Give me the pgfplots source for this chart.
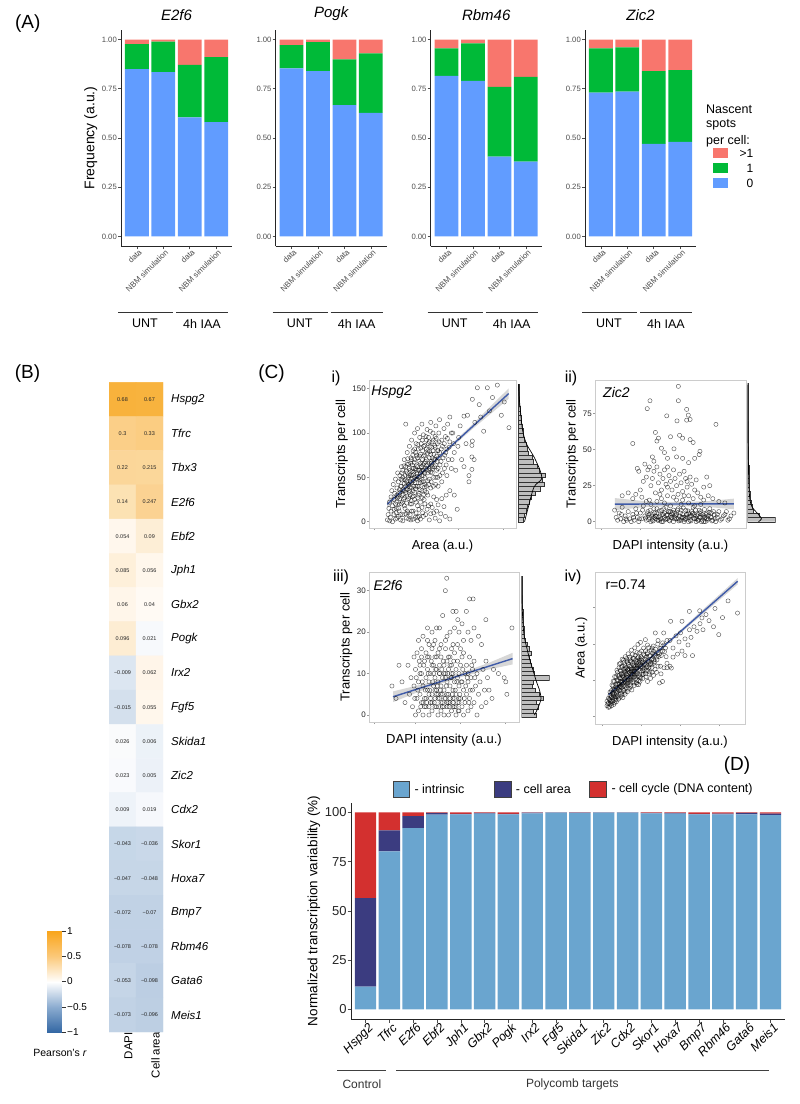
\documentclass[border=0pt]{standalone}
\usepackage{fontspec}
\setmainfont{Liberation Sans}
\usepackage{pgfplots}
\pgfplotsset{compat=1.18}
\pgfplotsset{/pgf/number format/assume math mode=true}
\newcommand{\fs}[1]{\fontsize{#1}{#1}\selectfont}
\definecolor{ggred}{HTML}{F8766D}
\definecolor{gggreen}{HTML}{00BA38}
\definecolor{ggblue}{HTML}{619CFF}
\definecolor{gtick}{HTML}{4D4D4D}
\definecolor{intr}{HTML}{6AA5CF}
\definecolor{carea}{HTML}{3B3C80}
\definecolor{ccyc}{HTML}{D3302F}
\definecolor{fitblue}{HTML}{3F5BA9}
\pgfplotsset{
  Astyle/.style={
    scale only axis, width=111pt, height=216.65pt, anchor=north west,
    xmin=0.4, xmax=4.6, ymin=-0.05, ymax=1.05,
    axis lines*=left, axis line style={black!85, line width=0.8pt, -},
    ybar stacked, bar width=0.9,
    xtick={1,2,3,4}, xticklabels={data,NBM simulation,data,NBM simulation},
    xticklabel style={rotate=45, anchor=north east, font=\fs{8}, text=gtick, inner sep=0.5pt, xshift=2pt},
    ytick={0,0.25,0.5,0.75,1}, yticklabels={0.00,0.25,0.50,0.75,1.00},
    yticklabel style={font=\fs{7.7}, text=gtick, inner sep=1pt},
    tick align=outside, major tick length=3pt, tick style={gtick, line width=0.5pt},
    title style={font=\fs{15}\itshape, at={(0.5,1)}, anchor=south, yshift=2pt, inner sep=1pt},
  },
  Cstyle/.style={
    scale only axis, anchor=north west,
    axis line style={gray!40, line width=0.7pt},
    tick align=outside, major tick length=2pt, tick style={gray!80, line width=0.5pt},
    xtick pos=bottom, ytick pos=left, xticklabels=\empty,
    yticklabel style={font=\fs{8}, text=black!85, inner sep=1pt},
    xlabel style={font=\fs{13}}, ylabel style={font=\fs{13}},
    xmin=0, xmax=100,
  },
  Hstyle/.style={scale only axis, anchor=north west, hide axis, xmin=0, xmax=28, width=28pt},
  pts/.style={only marks, mark=o, mark size=2.1pt, mark options={draw=black, draw opacity=0.7, line width=0.4pt}},
  band/.style={fill=gray!45, draw=none, fill opacity=0.7},
  fit/.style={fitblue, line width=1.4pt},
  hbar/.style={xbar interval, fill=gray!50, draw=black!80, line width=0.3pt},
  dens/.style={black, line width=0.7pt, smooth},
}
\begin{document}
\begin{tikzpicture}
\path[use as bounding box] (0,0) rectangle (800pt,-1104pt);

% ---------------- Panel A ----------------
\begin{axis}[Astyle, at={(121pt,-29.65pt)}, title={E2f6}, ylabel={Frequency (a.u.)}, ylabel style={font=\fs{14}}]
\addplot[fill=ggblue,draw=none] coordinates {(1,0.849) (2,0.835) (3,0.605) (4,0.580)};
\addplot[fill=gggreen,draw=none] coordinates {(1,0.128) (2,0.154) (3,0.266) (4,0.330)};
\addplot[fill=ggred,draw=none] coordinates {(1,0.023) (2,0.011) (3,0.129) (4,0.090)};
\end{axis}
\begin{axis}[Astyle, at={(275.7pt,-29.65pt)}, title={Pogk}]
\addplot[fill=ggblue,draw=none] coordinates {(1,0.854) (2,0.840) (3,0.667) (4,0.628)};
\addplot[fill=gggreen,draw=none] coordinates {(1,0.118) (2,0.147) (3,0.232) (4,0.302)};
\addplot[fill=ggred,draw=none] coordinates {(1,0.028) (2,0.013) (3,0.101) (4,0.070)};
\end{axis}
\begin{axis}[Astyle, at={(430.7pt,-29.65pt)}, title={Rbm46}]
\addplot[fill=ggblue,draw=none] coordinates {(1,0.815) (2,0.790) (3,0.405) (4,0.380)};
\addplot[fill=gggreen,draw=none] coordinates {(1,0.140) (2,0.190) (3,0.355) (4,0.430)};
\addplot[fill=ggred,draw=none] coordinates {(1,0.045) (2,0.020) (3,0.240) (4,0.190)};
\end{axis}
\begin{axis}[Astyle, at={(585pt,-29.65pt)}, title={Zic2}]
\addplot[fill=ggblue,draw=none] coordinates {(1,0.730) (2,0.735) (3,0.470) (4,0.480)};
\addplot[fill=gggreen,draw=none] coordinates {(1,0.225) (2,0.225) (3,0.370) (4,0.365)};
\addplot[fill=ggred,draw=none] coordinates {(1,0.045) (2,0.040) (3,0.160) (4,0.155)};
\end{axis}

% ---------------- Panel B: heatmap ----------------
\begin{axis}[at={(109pt,-382.3pt)}, anchor=north west, scale only axis, width=54pt, height=649.7pt,
  xmin=-0.5, xmax=1.5, ymin=-0.5, ymax=18.5, y dir=reverse,
  axis line style={draw=none}, major tick length=0pt,
  xtick={0,1}, xticklabels={DAPI,Cell area},
  xticklabel style={rotate=90, anchor=east, font=\fs{11.5}, inner sep=0pt, yshift=-6pt},
  ytick={0,...,18},
  yticklabels={Hspg2,Tfrc,Tbx3,E2f6,Ebf2,Jph1,Gbx2,Pogk,Irx2,Fgf5,Skida1,Zic2,Cdx2,Skor1,Hoxa7,Bmp7,Rbm46,Gata6,Meis1},
  yticklabel pos=right,
  yticklabel style={anchor=west, font=\fs{11.5}\itshape, inner sep=0pt, xshift=8pt},
  colormap={hm}{rgb255(0pt)=(52,104,164) rgb255(90pt)=(188,206,227) rgb255(96pt)=(199,215,232) rgb255(98.5pt)=(212,224,237) rgb255(100pt)=(232,239,247) rgb255(102.5pt)=(250,251,253) rgb255(104pt)=(255,250,244) rgb255(106pt)=(255,246,234) rgb255(110pt)=(253,236,208) rgb255(115pt)=(252,223,172) rgb255(125pt)=(251,210,145) rgb255(133pt)=(251,205,130) rgb255(168pt)=(248,178,60) rgb255(200pt)=(249,165,27)},
  point meta min=-1, point meta max=1]
\addplot[matrix plot*, mesh/cols=2, point meta=explicit] table[row sep=\\, meta=v] {
x y v\\
0 0 0.68\\ 1 0 0.67\\
0 1 0.3\\ 1 1 0.33\\
0 2 0.22\\ 1 2 0.215\\
0 3 0.14\\ 1 3 0.247\\
0 4 0.054\\ 1 4 0.09\\
0 5 0.085\\ 1 5 0.056\\
0 6 0.06\\ 1 6 0.04\\
0 7 0.096\\ 1 7 0.021\\
0 8 -0.009\\ 1 8 0.062\\
0 9 -0.015\\ 1 9 0.055\\
0 10 0.026\\ 1 10 0.006\\
0 11 0.023\\ 1 11 0.005\\
0 12 0.009\\ 1 12 0.019\\
0 13 -0.043\\ 1 13 -0.036\\
0 14 -0.047\\ 1 14 -0.048\\
0 15 -0.072\\ 1 15 -0.07\\
0 16 -0.078\\ 1 16 -0.078\\
0 17 -0.053\\ 1 17 -0.098\\
0 18 -0.073\\ 1 18 -0.096\\
};
\addplot[draw=none, mark=none, nodes near coords, point meta=explicit symbolic,
  nodes near coords align={center},
  every node near coord/.append style={font=\fs{5.5}, text=black!85, inner sep=0pt}] table[row sep=\\, meta=t] {
x y t\\
0 0 0.68\\ 1 0 0.67\\
0 1 0.3\\ 1 1 0.33\\
0 2 0.22\\ 1 2 0.215\\
0 3 0.14\\ 1 3 0.247\\
0 4 0.054\\ 1 4 0.09\\
0 5 0.085\\ 1 5 0.056\\
0 6 0.06\\ 1 6 0.04\\
0 7 0.096\\ 1 7 0.021\\
0 8 −0.009\\ 1 8 0.062\\
0 9 −0.015\\ 1 9 0.055\\
0 10 0.026\\ 1 10 0.006\\
0 11 0.023\\ 1 11 0.005\\
0 12 0.009\\ 1 12 0.019\\
0 13 −0.043\\ 1 13 −0.036\\
0 14 −0.047\\ 1 14 −0.048\\
0 15 −0.072\\ 1 15 −0.07\\
0 16 −0.078\\ 1 16 −0.078\\
0 17 −0.053\\ 1 17 −0.098\\
0 18 −0.073\\ 1 18 −0.096\\
};
\end{axis}

% colorbar
\begin{axis}[at={(47pt,-931pt)}, anchor=north west, scale only axis, width=15pt, height=101pt,
  xmin=0, xmax=1, ymin=-1, ymax=1, axis line style={draw=none}, xtick=\empty,
  ytick={-1,-0.5,0,0.5,1}, yticklabels={−1,−0.5,0,0.5,1}, ytick pos=right, yticklabel pos=right,
  tick align=outside, major tick length=4pt, tick style={black!80, line width=0.5pt},
  yticklabel style={font=\fs{10}, inner sep=1pt},
  colormap={cb}{rgb255=(52,104,164) rgb255=(140,172,208) rgb255=(255,255,255) rgb255=(251,200,120) rgb255=(249,165,27)},
  point meta min=-1, point meta max=1]
\addplot[surf, shader=interp, mesh/cols=2, point meta=y] coordinates {(0,-1) (1,-1) (0,-0.5) (1,-0.5) (0,0) (1,0) (0,0.5) (1,0.5) (0,1) (1,1)};
\end{axis}

% ---------------- Panel C ----------------
% i) Hspg2
\begin{axis}[Cstyle, at={(369pt,-380pt)}, width=147pt, height=148pt, ymin=-7.1, ymax=159.75,
  ytick={0,50,100,150}, xtick={3.4,31,61,91}, xlabel={Area (a.u.)}, ylabel={Transcripts per cell}]
\addplot[pts] coordinates {
(12.5,2) (13,8) (13.5,15) (14,22) (14.5,5) (15,28) (15,12) (15.5,35) (16,0) (16,18) (16.5,42) (17,8) (17,25) (17.5,32) (18,3) (18,48) (18.5,15) (19,22) (19,38) (19.5,55) (20,6) (20,28) (20,45)
(20.5,12) (21,33) (21,52) (21.5,2) (21.5,40) (22,20) (22,62) (22.5,30) (22.5,47) (23,8) (23,36) (23,58) (23.5,25) (24,43) (24,70) (24.5,15) (24.5,52) (25,33) (25,110) (25,62) (25.5,4) (25.5,45) (26,28) (26,55) (26,78)
(26.5,10) (26.5,40) (27,65) (27,50) (27.5,35) (27.5,85) (28,20) (28,45) (28,58) (28.5,72) (28.5,2) (29,38) (29,52) (29,92) (29.5,28) (29.5,64) (30,46) (30,80) (30,12) (30.5,56) (30.5,40) (31,70) (31,100) (31,33) (31.5,5) (31.5,60) (32,48) (32,88) (32,22)
(32.5,75) (32.5,54) (33,40) (33,62) (33,105) (33.5,30) (33.5,82) (34,50) (34,68) (34,14) (34.5,58) (34.5,95) (35,44) (35,76) (35,3) (35.5,62) (35.5,88) (36,52) (36,35) (36,110) (36.5,70) (36.5,80) (37,58) (37,45) (37,98) (37.5,25) (37.5,66) (38,75) (38,86) (38,50) (38.5,60) (38.5,8) (39,92) (39,40) (39,70) (39.5,104) (40,55) (40,80) (40,64)
(40.5,18) (40.5,95) (41,72) (41,48) (41.5,85) (41.5,60) (42,112) (42,76) (42,38) (42.5,66) (43,90) (43,55) (43.5,100) (43.5,80) (44,70) (44,28) (44.5,62) (45,96) (45,84) (45.5,50) (45.5,108) (46,74) (46.5,88) (47,60) (47,40) (47.5,100) (48,78) (48,115)
(48.8,9) (49,68) (49.5,92) (50,55) (50,85) (51,17) (51,105) (51.5,75) (52,96) (52.5,64) (53,82) (53.5,110) (54,70) (55,118) (55,90) (56,60) (57,100) (58,78) (58,30)
(60,14) (61,95) (62,108) (63,70) (64.6,119) (64.6,62) (66,88) (67,120) (68,45) (68,52) (70,59) (70,73) (70,86) (70.3,91) (70.3,138) (71.5,70) (72,112)
(73.7,151) (75,132) (76,118) (78,102) (80.5,151) (82,125) (84,140) (87.3,154) (90,120) (95.2,106) (92,135)
(24,35) (25,40) (26,46) (27,42) (28,52) (29,44) (30,60) (31,50) (32,58) (33,48) (34,40) (35,55) (36,62) (37,52) (38,42) (39,58) (40,46) (41,66) (42,56) (43,62) (44,50) (45,70) (46,58) (47,80) (29,70) (31,82) (33,72) (35,66) (37,74) (39,82) (41,90) (43,72) (27,26) (29,20) (31,25) (33,18) (35,22) (37,30) (30,35) (32,40) (34,32) (36,45) (38,35) (40,30) (26,65) (28,30) (23,50) (22,40) (21,26) (20,15) (19,30) (18,20) (17,14) (24,18) (26,12) (28,8) (30,3) (32,10) (34,6) (36,16) (38,20) (42,20) (44,10) (46,25)
(14,1) (19,4) (23,1) (27,3) (33,1) (37,6) (41,2) (45,4) (48,1) (52,6) (55,3) (42,9) (46,12)
(19.3,27) (20.7,36) (21.8,48) (22.4,55) (23.2,31) (23.8,63) (24.6,47) (25.3,57) (25.9,36) (26.3,71) (26.8,52) (27.3,60) (27.9,39) (28.4,66) (28.8,49) (29.3,57) (29.8,75) (30.2,53) (30.7,67) (31.2,44) (31.7,78) (32.2,63) (32.7,51) (33.2,87) (33.7,58) (34.2,74) (34.7,47) (35.2,83) (35.7,57) (36.2,92) (36.7,64) (37.2,85) (37.7,55) (38.2,68) (38.7,96) (39.2,63) (39.7,77) (40.2,88) (40.7,58) (41.2,79) (41.7,102) (42.2,68) (42.7,84) (43.2,60) (43.7,92) (44.2,76) (44.7,86) (45.2,64) (45.7,94) (46.2,68) (46.7,80) (47.2,72) (47.7,90) (48.3,64) (49.2,82) (50.4,72) (51.2,88) (52.2,78) (53.3,94) (54.5,84) (56,100) (57.5,88)
(22.8,22) (24.2,27) (25.7,21) (27.2,33) (28.7,24) (30.2,29) (31.7,37) (33.2,27) (34.7,36) (36.2,27) (37.7,39) (39.2,33) (40.7,42) (42.3,45) (43.8,40) (45.3,42) (46.8,50) (48.2,52) (49.5,45) (51.3,60) (20.5,20) (18.5,10) (21.5,8) (25,9) (29,12) (33,5) (36.5,10) (39.5,14) (43,16) (47,19) (49.5,26) (52.5,30) (55,35) (53,52) (56.5,70) (59,58) (60.5,85)
};
\addplot[band] coordinates {(12.4,15) (30,44) (50,74.6) (70,104) (95,138.5) (95,150.3) (70,109.2) (50,78.2) (30,48.4) (12.4,24.2)} -- cycle;
\addplot[fit] coordinates {(12.4,19.6) (95,144.4)};
\node[anchor=north west, font=\fs{14}\itshape, inner sep=0pt] at (rel axis cs:0.015,0.96) {Hspg2};
\end{axis}
\begin{axis}[Hstyle, at={(518pt,-380pt)}, height=148pt, ymin=-7.1, ymax=159.75]
\addplot[hbar] coordinates {(5,0) (6,5) (8,10) (9,15) (11,20) (13,25) (17,30) (22,35) (26,40) (24,45) (27,50) (21,55) (19,60) (15,65) (14,70) (10,75) (9,80) (8,85) (6,90) (5,95) (5,100) (4,105) (3,110) (3,115) (2.5,120) (2,125) (1.5,130) (1.5,135) (1,140) (1,145) (1,150) (1,155)};
\addplot[dens] coordinates {(6.5,0) (10,15) (16,39) (23.5,48) (22,58) (16,73) (8.4,88) (4.6,103) (2.7,122) (1.2,140) (0.6,155)};
\end{axis}

% ii) Zic2
\begin{axis}[Cstyle, at={(595pt,-380pt)}, width=151pt, height=148pt, ymin=-4.4, ymax=98.4,
  ytick={0,25,50,75}, xtick={4.4,30,56,82}, xlabel={DAPI intensity (a.u.)}, ylabel={Transcripts per cell}]
\addplot[pts] coordinates {
(36.4,84) (55.2,94) (55.2,84) (34.6,78.5) (47.5,73.5) (54.3,70) (60.7,78) (61.8,74) (63,71) (60.7,70.5) (80.1,67.6) (69.5,48.9) (69,46.6) (25,54.3) (52.3,50.6) (40,62) (42,58) (41,56) (44,51) (46,48) (50,59) (56,60) (58,58) (63,57) (65,55) (58,44) (48,44) (38,45) (33,40) (54,45) (66,44) (62,41) (36,38) (28,37) (74,31) (76,25) (72,24) (29,35)
(30,22) (32,28) (34,31) (35,36) (37,25) (38,30) (39,35) (40,20) (41,38) (42,27) (43,33) (44,22) (45,30) (46,36) (47,26) (48,18) (49,32) (50,28) (51,22) (52,36) (53,30) (54,25) (55,19) (56,33) (57,27) (58,21) (59,35) (60,30) (61,24) (62,18) (63,31) (64,26) (65,16) (66,22) (67,29) (68,20) (70,17) (72,15) (75,18) (78,16) (82,14) (86,13) (18,18) (22,20) (25,16) (27,19) (31,17) (36,15) (44,16) (52,17) (58,15) (48,38) (39,42)
(13,8) (14,3) (15,1) (16,6) (17,2) (18,10) (19,0) (20,4) (21,1) (22,7) (23,2) (24,0) (25,5) (26,1) (27,9) (28,3) (29,0) (30,6) (31,2) (32,11) (33,4) (34,1) (35,7) (36,3) (37,0) (38,5) (39,9) (40,2) (41,6) (42,1) (43,4) (44,8) (45,0) (46,3) (47,10) (48,5) (49,1) (50,7) (51,3) (52,0) (53,6) (54,2) (55,9) (56,4) (57,1) (58,5) (59,0) (60,8) (61,3) (62,6) (63,1) (64,4) (65,10) (66,2) (67,0) (68,5) (69,3) (70,7) (71,1) (72,4) (73,0) (74,6) (75,2) (76,9) (77,3) (78,1) (79,5) (80,0) (81,3) (82,7) (84,2) (86,5) (88,1) (90,4) (92,6)
(38,1) (40,4) (42,3) (44,0) (46,6) (48,2) (50,4) (52,8) (54,5) (56,1) (58,3) (60,2) (62,0) (64,7) (66,5) (68,1) (70,3) (72,0) (74,2) (36,5) (41,9) (45,5) (49,7) (53,3) (57,8) (61,5) (65,6) (69,8) (73,3) (77,6) (39,3) (43,1) (47,2) (51,5) (55,2) (59,3) (63,4) (67,2) (71,5) (75,4)
(33.5,2.5) (34.5,5.5) (35.5,1.5) (36.5,8) (37.5,4) (38.5,0.5) (39.5,6) (40.5,3.5) (41.5,1) (42.5,7.5) (43.5,2) (44.5,5) (45.5,9) (46.5,1.5) (47.5,4.5) (48.5,7) (49.5,0.5) (50.5,3) (51.5,6.5) (52.5,2) (53.5,4.5) (54.5,8) (55.5,0.5) (56.5,6) (57.5,3) (58.5,9.5) (59.5,1.5) (60.5,5) (61.5,7.5) (62.5,3) (63.5,0.5) (64.5,5.5) (65.5,2.5) (66.5,8) (67.5,4) (68.5,1) (69.5,6) (70.5,0) (71.5,3) (72.5,8.5) (73.5,5) (74.5,1) (75.5,6.5) (76.5,3.5) (77.5,0.5) (78.5,7) (79.5,2) (81,5) (83,1) (85,4) (87,7) (89,2) (25.5,3) (27.5,6) (29.5,2) (31.5,8) (20.5,2) (17.5,5)
(37,12) (41,14) (46,13) (50,11) (54,15) (57,12) (62,13) (66,11) (70,12) (34,14) (43,19) (59,18) (48,24) (61,28)
};
\addplot[band] coordinates {(13.2,8) (35,10.3) (55,10.8) (75,10.2) (92,8.6) (92,16) (75,14.3) (55,13.6) (35,14) (13.2,16.4)} -- cycle;
\addplot[fit] coordinates {(13.2,12.2) (92,12.4)};
\node[anchor=north west, font=\fs{14}\itshape, inner sep=0pt] at (rel axis cs:0.053,0.953) {Zic2};
\end{axis}
\begin{axis}[Hstyle, at={(747.5pt,-380pt)}, height=148pt, ymin=-4.4, ymax=98.4]
\addplot[hbar] coordinates {(28,0) (12,3) (6,6) (4.5,9) (3.5,12) (3,15) (2.5,18) (2,21) (2,24) (1.5,27) (1.5,30) (1.2,33) (1.2,36) (1,39) (1,42) (1,45) (0.8,48) (0.8,51) (0.7,54) (0.7,57) (0.6,60) (0.5,63) (0.5,66) (0.5,69) (0.5,72) (0.5,75) (0.4,78) (0.4,81) (0.3,84) (0.3,87) (0.3,90) (0.3,93) (0.3,96)};
\addplot[dens] coordinates {(11,0) (14,2) (11,5) (7,8) (4,11) (2.5,15) (1.8,20) (1.2,30) (0.8,45) (0.5,60) (0.3,80) (0.2,95)};
\end{axis}

% iii) E2f6
\begin{axis}[Cstyle, at={(369pt,-572pt)}, width=150pt, height=150pt, ymin=-1.69, ymax=34.5,
  ytick={0,10,20,30}, xtick={3.4,31,61,91}, xlabel={DAPI intensity (a.u.)}, ylabel={Transcripts per cell}]
\addplot[pts] coordinates {
(51.8,33) (50.9,30) (67,28) (69.4,28) (95.3,21) (55.9,25) (58.1,25) (49.1,24) (64.9,25) (77.9,23) (59.2,23) (62,22) (45,21) (39,21) (42,20) (47,21) (54,20) (57,21) (60,20) (66,20) (70,21) (73,19) (36,19) (44,18) (52,19) (63,18) (68,18) (75,17) (48,17) (56,17) (40,17) (33,18)
(15.3,7) (90.1,9) (91.2,8) (91.9,5) (86.3,10) (83,11) (80,6) (78,13) (82,4) (20,12) (22,8) (18,4) (24,3)
(26,12) (27,5) (28,9) (29,2) (30,14) (30,7) (31,0) (31,11) (32,4) (32,15) (33,8) (33,1) (34,12) (34,5) (35,10) (35,3) (35,16) (36,7) (36,0) (37,13) (37,4) (38,9) (38,2) (38,15) (39,6) (39,11) (40,0) (40,8) (40,14) (41,3) (41,10) (42,5) (42,16) (42,1) (43,12) (43,7) (44,4) (44,14) (44,9) (45,2) (45,11) (45,6) (46,0) (46,15) (46,8) (47,4) (47,12) (47,10) (48,1) (48,7) (48,14) (49,5) (49,9) (49,3) (50,12) (50,0) (50,6) (51,16) (51,4) (51,10) (52,2) (52,8) (52,13) (53,5) (53,11) (53,0) (54,7) (54,14) (54,3) (55,9) (55,1) (55,12) (56,6) (56,4) (56,10) (57,2) (57,15) (57,8) (58,0) (58,11) (58,5) (59,13) (59,3) (60,7) (60,10) (60,1) (61,4) (61,12) (62,8) (62,2) (62,14) (63,6) (63,0) (64,10) (64,3) (65,12) (65,5) (66,8) (66,1) (67,14) (67,4) (68,9) (68,2) (69,6) (69,11) (70,3) (70,13) (71,7) (72,0) (72,10) (73,5) (74,8) (75,2) (76,11) (77,6) (78,3) (79,9)
(36,3) (38,4) (40,5) (42,3) (44,2) (46,4) (48,3) (50,2) (52,5) (54,4) (56,3) (58,2) (60,4) (37,2) (41,4) (45,5) (49,2) (53,3) (57,4) (43,10) (47,10) (51,9) (55,10) (59,9) (39,14) (45,14) (53,14) (61,16) (34,10) (66,10)
(30.5,4) (31.5,9) (32.5,6) (33.5,13) (34.5,2) (35.5,8) (36.5,12) (37.5,6) (38.5,3) (39.5,10) (40.5,6) (41.5,13) (42.5,8) (43.5,3) (44.5,11) (45.5,7) (46.5,2) (47.5,6) (48.5,11) (49.5,13) (50.5,4) (51.5,7) (52.5,10) (53.5,2) (54.5,9) (55.5,5) (56.5,13) (57.5,6) (58.5,8) (59.5,1) (60.5,5) (61.5,8) (62.5,11) (63.5,4) (64.5,7) (65.5,9) (66.5,3) (67.5,6) (68.5,12) (70.5,9) (39,18) (43,17) (47,16) (51,18) (55,16) (59,17) (63,15) (35,14) (40,2) (44,6) (48,5) (52,3) (56,2) (60,3) (46,5) (50,10) (54,12) (42,12)
};
\addplot[band] coordinates {(16,3.1) (40,6.6) (60,9.0) (80,11.0) (95.7,12.2) (95.7,15.0) (80,12.6) (60,10.0) (40,7.8) (16,5.7)} -- cycle;
\addplot[fit] coordinates {(16,4.4) (95.7,13.6)};
\node[anchor=north west, font=\fs{14}\itshape, inner sep=0pt] at (rel axis cs:0.03,0.949) {E2f6};
\end{axis}
\begin{axis}[Hstyle, at={(521.5pt,-572pt)}, height=150pt, ymin=-1.69, ymax=34.5]
\addplot[hbar] coordinates {(15,-0.5) (12,0.5) (17,1.5) (15,2.5) (22,3.5) (18,4.5) (14,5.5) (11,6.5) (12,7.5) (28,8.5) (13,9.5) (12,10.5) (10,11.5) (9,12.5) (8,13.5) (10,14.5) (8,15.5) (6,16.5) (4,17.5) (3,18.5) (3,19.5) (3,20.5) (2,21.5) (2,22.5) (1.5,23.5) (1.5,24.5) (0.8,25.5) (0.8,26.5) (0.8,27.5) (0.5,28.5) (0.5,29.5) (0.5,30.5) (0.5,31.5) (0.5,32.5) (0.5,33.5)};
\addplot[dens] coordinates {(13,0) (17,2) (19.5,4) (18,6) (15,8) (12.5,10) (10,12) (7.5,14) (5.5,16) (3.5,18) (2.2,20) (1.3,23) (0.7,26) (0.3,30) (0.1,33.5)};
\end{axis}

% iv) Area vs DAPI
\begin{axis}[Cstyle, at={(595pt,-572pt)}, width=150pt, height=152pt, ymin=0, ymax=100,
  ytick={5.1,28.5,52.6,76.9}, yticklabels=\empty, xtick={4.7,30.9,56.9,82.9}, xlabel={DAPI intensity (a.u.)}, ylabel={Area (a.u.)}]
\addplot[pts] coordinates {
(8,12) (8,15) (9,11) (9,14) (10,13) (10,16) (10,19) (11,12) (11,18) (11,22) (12,15) (12,20) (12,25) (13,14) (13,18) (13,23) (13,28) (14,16) (14,21) (14,26) (14,31) (15,18) (15,24) (15,29) (15,34) (16,17) (16,22) (16,27) (16,32) (16,37) (17,20) (17,25) (17,30) (17,35) (17,40) (18,19) (18,24) (18,28) (18,33) (18,38) (19,22) (19,27) (19,31) (19,36) (19,42) (20,21) (20,25) (20,30) (20,34) (20,39) (21,24) (21,28) (21,33) (21,37) (21,43) (22,23) (22,27) (22,31) (22,36) (22,40) (23,26) (23,30) (23,34) (23,38) (23,44) (24,25) (24,29) (24,33) (24,37) (24,41) (25,28) (25,32) (25,36) (25,40) (25,46) (26,27) (26,31) (26,35) (26,39) (26,43) (27,30) (27,34) (27,38) (27,42) (28,29) (28,33) (28,37) (28,41) (28,47) (29,32) (29,36) (29,40) (29,44) (30,31) (30,35) (30,39) (30,43) (31,34) (31,38) (31,42) (31,48) (32,33) (32,37) (32,41) (33,36) (33,40) (33,45) (34,35) (34,39) (34,44) (35,38) (35,42) (35,47) (36,37) (36,41) (37,40) (37,45) (38,39) (38,43) (39,42) (39,48) (40,41) (40,45) (41,44) (42,47) (43,46) (44,50) (45,48) (46,52) (47,50) (48,55)
(12,17) (13,20) (14,18) (15,21) (16,24) (17,22) (18,26) (19,25) (20,28) (21,26) (22,29) (23,28) (24,31) (25,30) (26,33) (27,32) (15,26) (17,28) (19,33) (21,31) (23,36) (25,34) (27,36) (29,38) (18,30) (20,36) (22,33) (24,35) (26,37) (28,39) (30,41) (11,15) (9,17) (10,21) (12,23)
(28,26) (30,28) (32,30) (34,31) (36,33) (38,34) (40,36) (42,38) (35,28) (37,30) (39,32) (41,34) (44,33) (46,37) (48,40) (50,38) (43,27) (52,44)
(50,55) (52,50) (54,58) (55,46) (56,54) (57,60) (58,48) (60,56) (62,52) (63,62) (64,57) (66,64) (68,61) (70,66) (72,62) (69.8,74.5) (74,72) (82.5,58.8) (76,68) (80,76) (88.7,81) (95,73) (85,70) (79,64) (45,28) (60,45) (65,45) (42,55) (38,50) (35,52)
(45.8,59.9) (40.2,59.9) (33.6,55.5) (32.4,50) (50.9,36.8) (48,37) (43.6,38) (29,25.9) (62.9,74.1) (71.3,69.8) (58,67.6) (50.4,67.6)
(8.6,13.3) (9.4,16.2) (10.3,14.7) (10.8,17.5) (11.6,20.4) (12.3,18.6) (12.8,22.1) (13.4,16.9) (13.9,24.3) (14.5,19.8) (14.8,28.2) (15.4,22.7) (15.9,26.1) (16.3,30.4) (16.8,24.5) (17.3,33.2) (17.7,27.3) (18.4,31.6) (18.8,22.3) (19.4,34.8) (19.7,29.2) (20.3,37.1) (20.8,32.4) (21.4,26.9) (21.7,35.6) (22.3,39.2) (22.8,34.1) (23.4,29.7) (23.7,41.5) (24.3,36.2) (24.8,32.8) (25.4,43.2) (25.8,38.4) (26.4,34.6) (26.7,45.3) (27.4,40.1) (27.8,36.7) (28.4,43.5) (28.8,31.2) (29.4,41.8) (29.7,46.9) (30.4,37.6) (30.8,44.2) (31.4,40.4) (31.8,35.3) (32.4,45.6) (32.8,39.1) (33.4,42.7) (33.8,48.2) (34.4,37.4) (34.8,46.1) (35.4,41.3) (35.8,50.2) (36.4,44.8) (36.8,39.2) (37.4,48.6) (37.8,42.4) (38.4,46.7) (38.8,51.3) (39.4,40.1) (39.8,45.9) (40.4,49.2) (41.3,42.2) (41.8,52.6) (42.6,44.5) (43.3,49.8) (44.2,45.1) (45.1,53.4) (46.3,47.6) (47.4,44.3)
(9.8,11.2) (11.2,13.8) (12.6,12.9) (14.2,14.6) (15.6,16.3) (17.1,18.2) (18.6,17.4) (20.1,19.6) (21.6,21.3) (23.1,23.6) (24.6,22.4) (26.1,25.3) (27.6,27.1) (29.1,28.4) (30.6,30.2) (32.1,32.6) (33.6,33.1) (35.1,35.4) (36.6,34.2) (38.1,37.3) (11.3,25.6) (13.1,31.2) (14.6,35.4) (16.2,39.5) (18.1,42.6) (20.2,44.3) (22.1,46.2) (24.3,48.6) (26.5,50.1) (28.6,52.4) (30.3,53.7) (12.1,28.2) (15.1,32.1) (17.4,37.2) (19.2,40.4) (21.3,41.2) (23.2,42.8)
};
\addplot[band] coordinates {(9.1,17.8) (40,45.5) (95.1,91.8) (95.1,96) (40,46.7) (9.1,20.8)} -- cycle;
\addplot[fit] coordinates {(9.1,19.3) (95.1,93.9)};
\node[anchor=north west, font=\fs{14}, inner sep=0pt] at (rel axis cs:0.069,0.949) {r=0.74};
\end{axis}

% ---------------- Panel D ----------------
\begin{axis}[at={(351.2pt,-802.5pt)}, anchor=north west, scale only axis, width=433.6pt, height=216.7pt,
  xmin=0.4, xmax=18.6, ymin=-5, ymax=105, ybar stacked, bar width=0.9,
  axis lines*=left, axis line style={black!85, line width=0.8pt, -},
  xtick={1,...,18},
  xticklabels={Hspg2,Tfrc,E2f6,Ebf2,Jph1,Gbx2,Pogk,Irx2,Fgf5,Skida1,Zic2,Cdx2,Skor1,Hoxa7,Bmp7,Rbm46,Gata6,Meis1},
  xticklabel style={rotate=45, anchor=north east, font=\fs{12.5}\itshape, inner sep=1pt, xshift=3pt},
  ytick={0,25,50,75,100}, yticklabel style={font=\fs{13}, text=black!85, inner sep=1pt},
  tick align=outside, major tick length=3.5pt, tick style={black!70, line width=0.5pt},
  ylabel={Normalized transcription variability (\%)}, ylabel style={font=\fs{13.5}}]
\addplot[fill=intr, draw=none] coordinates {(1,11.5) (2,80.2) (3,92.0) (4,98.8) (5,99.0) (6,99.3) (7,99.0) (8,99.5) (9,99.9) (10,99.8) (11,99.9) (12,99.9) (13,99.5) (14,99.4) (15,99.0) (16,99.0) (17,99.0) (18,98.6)};
\addplot[fill=carea, draw=none] coordinates {(1,45.0) (2,10.7) (3,6.1) (4,0.9) (5,0.2) (6,0.5) (7,0.2) (8,0.4) (9,0.05) (10,0.1) (11,0.05) (12,0.05) (13,0.3) (14,0.4) (15,0.2) (16,0.4) (17,0.8) (18,0.8)};
\addplot[fill=ccyc, draw=none] coordinates {(1,43.5) (2,9.1) (3,1.9) (4,0.3) (5,0.8) (6,0.2) (7,0.8) (8,0.1) (9,0.05) (10,0.1) (11,0.05) (12,0.05) (13,0.2) (14,0.2) (15,0.8) (16,0.6) (17,0.2) (18,0.6)};
\end{axis}

% ---------------- Annotations ----------------
\begin{scope}[x=1pt,y=-1pt]
\node[font=\fs{19}] at (27.8,24) {(A)};
\node[font=\fs{19}] at (27.5,374) {(B)};
\node[font=\fs{19}] at (271.5,373.5) {(C)};
\node[font=\fs{19}] at (737,766) {(D)};
\node[font=\fs{16}] at (336,378.5) {i)};
\node[font=\fs{16}] at (571,378.5) {ii)};
\node[font=\fs{16}] at (341,577.5) {iii)};
\node[font=\fs{16}] at (573,577.5) {iv)};
% A group lines
\foreach \L in {121,275.7,430.7,585} {
  \draw[black!80, line width=0.9pt] ({\L-3},312) -- ({\L+52},312);
  \draw[black!80, line width=0.9pt] ({\L+55},312) -- ({\L+107},312);
  \node[font=\fs{12.5}] at ({\L+24},323.5) {UNT};
  \node[font=\fs{12.5}] at ({\L+81},323.5) {4h IAA};
}
% A legend
\node[anchor=west, inner sep=0pt, font=\fs{12.5}] at (706,109) {Nascent};
\node[anchor=west, inner sep=0pt, font=\fs{12.5}] at (706,125) {spots};
\node[anchor=west, inner sep=0pt, font=\fs{12.5}] at (706,141) {per cell:};
\fill[ggred] (713,148.3) rectangle (728,158.3);
\fill[gggreen] (713,163.3) rectangle (728,173.3);
\fill[ggblue] (713,178.3) rectangle (728,188.3);
\node[anchor=east, inner sep=0pt, font=\fs{12}] at (753.5,153.3) {>1};
\node[anchor=east, inner sep=0pt, font=\fs{12}] at (753.5,168.3) {1};
\node[anchor=east, inner sep=0pt, font=\fs{12}] at (753.5,183.3) {0};
% B colorbar title
\node[font=\fs{10.5}] at (60,1053) {Pearson’s \textit{r}};
% D legend
\filldraw[fill=intr, draw=black!75, line width=0.5pt] (393.3,781.5) rectangle (409.7,797);
\node[anchor=west, inner sep=0pt, font=\fs{12.5}] at (414.3,789.3) {- intrinsic};
\filldraw[fill=carea, draw=black!75, line width=0.5pt] (494,781.5) rectangle (510.8,797);
\node[anchor=west, inner sep=0pt, font=\fs{12.5}] at (515.7,789.3) {- cell area};
\filldraw[fill=ccyc, draw=black!75, line width=0.5pt] (589.6,781.5) rectangle (606.4,797);
\node[anchor=west, inner sep=0pt, font=\fs{12.5}] at (611.4,789.3) {- cell cycle (DNA content)};
% D group lines
\draw[black!75, line width=0.9pt] (337,1070) -- (386.4,1070);
\draw[black!75, line width=0.9pt] (396,1070) -- (769,1070);
\node[font=\fs{12}, text=black!80] at (361.9,1084) {Control};
\node[font=\fs{12}, text=black!80] at (572.4,1084) {Polycomb targets};
\end{scope}
\end{tikzpicture}
\end{document}
